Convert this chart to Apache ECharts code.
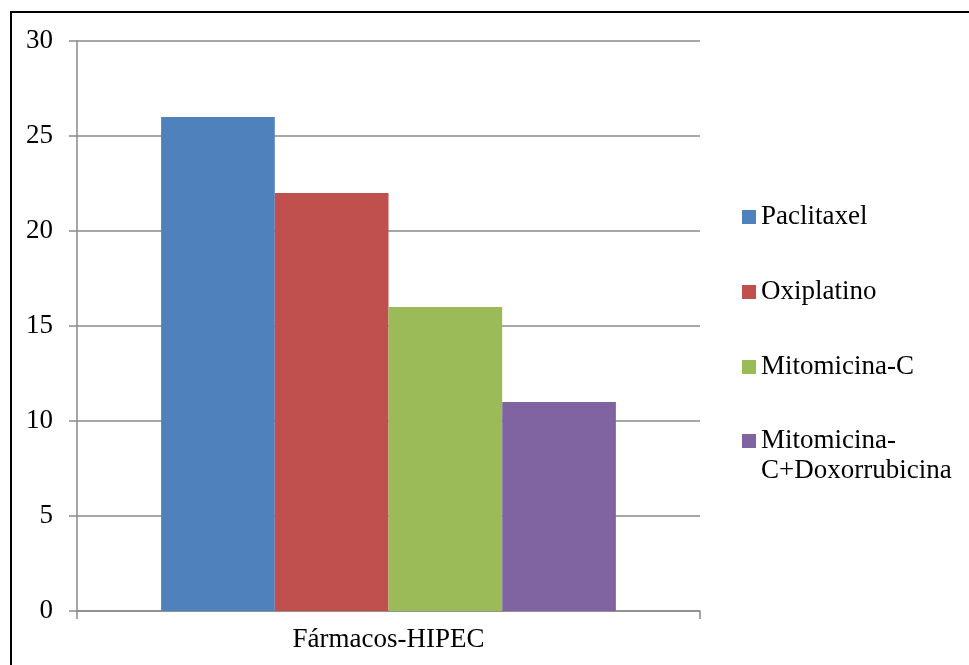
<!DOCTYPE html>
<html>
<head>
<meta charset="utf-8">
<script src="https://cdn.jsdelivr.net/npm/echarts@6/dist/echarts.min.js"></script>
<style>
  html, body { margin: 0; padding: 0; background: #fff; }
  #chart { width: 969px; height: 665px; }
</style>
</head>
<body>
<div id="chart"></div>
<script>
// Chart data
const categories = ['Fármacos-HIPEC'];
const seriesNames = ['Paclitaxel', 'Oxiplatino', 'Mitomicina-C', 'Mitomicina-C+Doxorrubicina'];
const seriesValues = [26, 22, 16, 11];
const seriesColors = ['#4F81BD', '#C0504D', '#9BBB59', '#8064A2'];
const yTicks = [0, 5, 10, 15, 20, 25, 30];

const FONT = '"Liberation Serif", "Times New Roman", serif';
const FONT_SIZE = 27;
const GRID_COLOR = '#8a8a8a';

const chart = echarts.init(document.getElementById('chart'), null, { renderer: 'canvas' });

const series = seriesNames.map((name, i) => ({
  name: name,
  type: 'bar',
  data: [seriesValues[i]],
  itemStyle: { color: seriesColors[i] },
  barGap: '0%',
  barCategoryGap: '27%'
}));

const legendText = { fontFamily: FONT, fontSize: FONT_SIZE, color: '#000', lineHeight: 30 };

chart.setOption({
  animation: false,
  backgroundColor: '#fff',
  grid: { left: 77, right: 269, top: 41, bottom: 54 },
  xAxis: {
    type: 'category',
    data: categories,
    axisLine: { lineStyle: { color: GRID_COLOR, width: 1.5 } },
    axisTick: { show: true, length: 8, lineStyle: { color: GRID_COLOR, width: 1.5 } },
    axisLabel: { fontFamily: FONT, fontSize: FONT_SIZE, color: '#000', margin: 15 }
  },
  yAxis: {
    type: 'value',
    min: yTicks[0],
    max: yTicks[yTicks.length - 1],
    interval: yTicks[1] - yTicks[0],
    axisLine: { show: true, lineStyle: { color: GRID_COLOR, width: 1.5 } },
    axisTick: { show: true, length: 8, lineStyle: { color: GRID_COLOR, width: 1.5 } },
    splitLine: { show: true, lineStyle: { color: GRID_COLOR, width: 1.5 } },
    axisLabel: { fontFamily: FONT, fontSize: FONT_SIZE, color: '#000', margin: 24 }
  },
  legend: [
    {
      orient: 'vertical',
      left: 742,
      top: 202,
      itemWidth: 14,
      itemHeight: 14,
      itemGap: 45,
      icon: 'rect',
      selectedMode: false,
      data: seriesNames.slice(0, 3),
      textStyle: legendText,
      padding: 0
    },
    {
      // long name wraps; a blank leading line keeps the marker beside the first line
      orient: 'vertical',
      left: 742,
      top: 396,
      itemWidth: 14,
      itemHeight: 14,
      icon: 'rect',
      selectedMode: false,
      data: seriesNames.slice(3),
      formatter: function (name) { return '\u00a0\n' + name.replace('-C+', '-\nC+'); },
      textStyle: legendText,
      padding: 0
    }
  ],
  graphic: [
    {
      type: 'rect',
      shape: { x: 11, y: 12, width: 2000, height: 2000 },
      style: { fill: null, stroke: '#000', lineWidth: 2 },
      silent: true,
      z: 100
    }
  ],
  series: series
});
</script>
</body>
</html>
